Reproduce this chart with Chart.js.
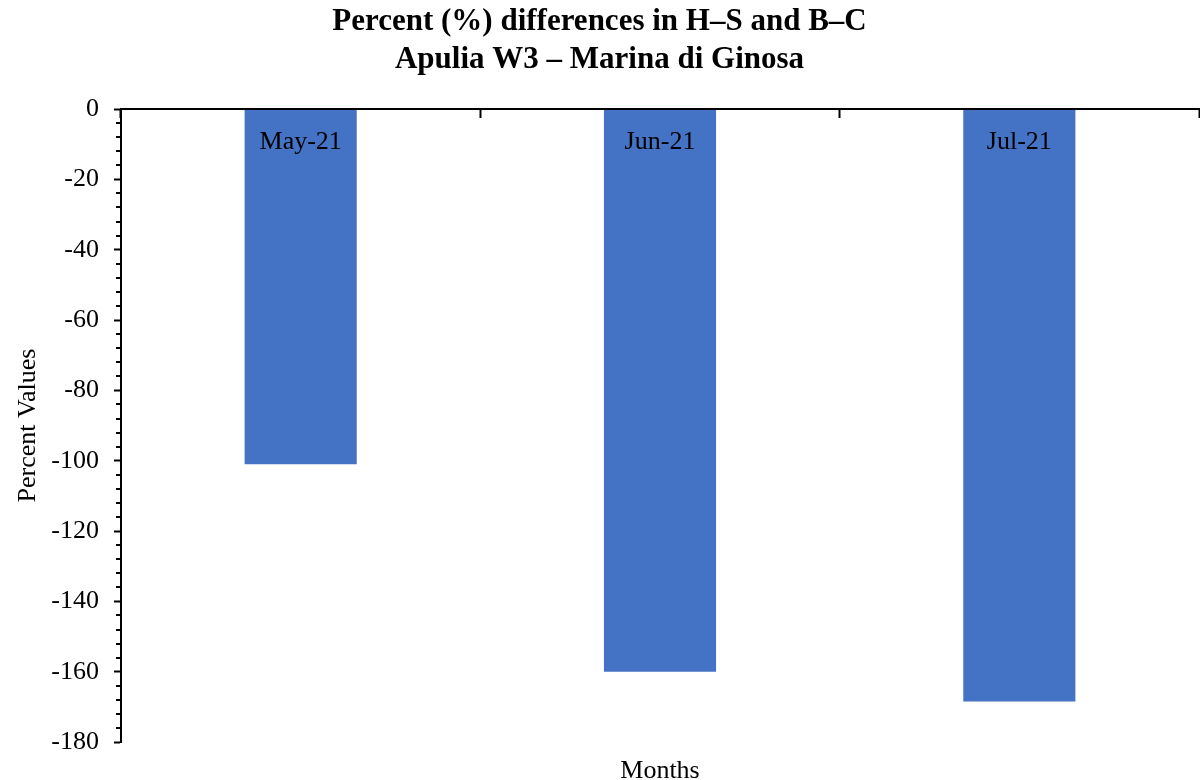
<!DOCTYPE html>
<html>
<head>
<meta charset="utf-8">
<title>Percent (%) differences in H–S and B–C</title>
<script src="https://cdn.jsdelivr.net/npm/chart.js@4.4.1/dist/chart.umd.min.js"></script>
<style>
  html, body { margin: 0; padding: 0; background: #ffffff; }
  canvas { display: block; }
</style>
</head>
<body>
<canvas id="chart" width="1200" height="780"></canvas>
<script>
// Monthly percent differences (H–S vs B–C), Apulia W3 – Marina di Ginosa
const months = ['May-21', 'Jun-21', 'Jul-21'];
const percentDiff = [-101, -160, -168.5];

// Value axis range and tick spacing
const yMin = -180;
const yMax = 0;
const majorStep = 20;
const minorStep = 4;

const serif = "'Liberation Serif', 'Times New Roman', serif";
Chart.defaults.font.family = serif;
Chart.defaults.color = '#000000';

// Short unlabeled ticks between the labelled ones on the value axis
const minorTicks = {
  id: 'minorTicks',
  afterDraw(chart) {
    const y = chart.scales.y;
    const left = chart.chartArea.left;
    const ctx = chart.ctx;
    ctx.save();
    ctx.strokeStyle = '#000000';
    ctx.lineWidth = 2;
    for (let v = yMax; v >= yMin; v -= minorStep) {
      if (v % majorStep === 0) continue;
      const p = Math.round(y.getPixelForValue(v));
      ctx.beginPath();
      ctx.moveTo(left - 5, p);
      ctx.lineTo(left, p);
      ctx.stroke();
    }
    ctx.restore();
  }
};

new Chart(document.getElementById('chart'), {
  type: 'bar',
  data: {
    labels: months,
    datasets: [{
      data: percentDiff,
      backgroundColor: '#4472C4',
      borderWidth: 0,
      categoryPercentage: 1.0,
      barPercentage: 0.312
    }]
  },
  options: {
    responsive: false,
    animation: false,
    layout: { padding: { left: 0, right: 1, top: 0, bottom: 0 } },
    plugins: {
      legend: { display: false },
      tooltip: { enabled: false },
      title: {
        display: true,
        text: ['Percent (%) differences in H\u2013S and B\u2013C', 'Apulia W3 \u2013 Marina di Ginosa'],
        color: '#000000',
        font: { family: serif, size: 31, weight: 'bold', lineHeight: 1.226 },
        padding: { top: 3, bottom: 30 }
      },
      subtitle: {
        display: true,
        position: 'bottom',
        fullSize: false,
        text: 'Months',
        color: '#000000',
        font: { family: serif, size: 26, weight: 'normal', lineHeight: 0.69 },
        padding: { top: 20, bottom: 0 }
      }
    },
    scales: {
      x: {
        position: { y: 0 },
        offset: true,
        grid: {
          offset: true,
          drawOnChartArea: false,
          drawTicks: true,
          tickLength: 8,
          tickWidth: 2,
          tickColor: '#000000',
          z: 1
        },
        border: { display: true, color: '#000000', width: 2, z: 1 },
        ticks: {
          color: '#000000',
          font: { family: serif, size: 26 },
          padding: 10,
          maxRotation: 0,
          z: 1
        }
      },
      y: {
        min: yMin,
        max: yMax,
        afterFit(scale) { scale.width = 121; },
        grid: {
          drawOnChartArea: false,
          drawTicks: true,
          tickLength: 7,
          tickWidth: 2,
          tickColor: '#000000'
        },
        border: { display: true, color: '#000000', width: 2 },
        ticks: {
          stepSize: majorStep,
          color: '#000000',
          font: { family: serif, size: 26 },
          padding: 15
        },
        title: {
          display: true,
          text: 'Percent Values',
          color: '#000000',
          font: { family: serif, size: 26 },
          padding: { top: 13, bottom: 7 }
        }
      }
    }
  },
  plugins: [minorTicks]
});
</script>
</body>
</html>
